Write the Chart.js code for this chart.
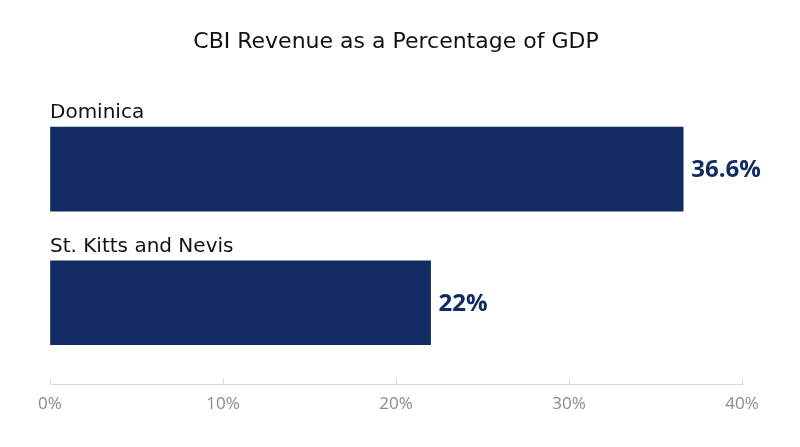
<!DOCTYPE html>
<html>
<head>
<meta charset="utf-8">
<script src="https://cdn.jsdelivr.net/npm/chart.js@4"></script>
<style>
  html, body { margin: 0; padding: 0; background: #fff; }
  #wrap { width: 800px; height: 447px; }
</style>
</head>
<body>
<div id="wrap"><canvas id="chart"></canvas></div>
<script>
  const countries = ['Dominica', 'St. Kitts and Nevis'];
  const revenueShare = [36.6, 22];
  const valueLabels = ['36.6%', '22%'];
  const xTicks = [0, 10, 20, 30, 40];

  const NAVY = '#122b62';
  const FONT = "'Open Sans', sans-serif";
  const WIDE = "'DejaVu Sans', sans-serif";

  // category names above the bars, value labels at the bar ends
  const barText = {
    id: 'barText',
    afterDatasetsDraw(chart) {
      const ctx = chart.ctx;
      const meta = chart.getDatasetMeta(0);
      ctx.save();
      meta.data.forEach((bar, i) => {
        const top = bar.y - bar.height / 2;
        ctx.font = '20px ' + WIDE;
        ctx.fillStyle = '#111';
        ctx.textAlign = 'left';
        ctx.textBaseline = 'alphabetic';
        ctx.fillText(countries[i], chart.chartArea.left, top - 9);

        ctx.font = 'bold 24px ' + FONT;
        ctx.fillStyle = NAVY;
        ctx.textBaseline = 'middle';
        ctx.fillText(valueLabels[i], bar.x + 8, bar.y + 1);
      });
      ctx.restore();
    }
  };

  new Chart(document.getElementById('chart'), {
    type: 'bar',
    data: {
      datasets: [{
        data: countries.map((c, i) => ({ x: revenueShare[i], y: i })),
        backgroundColor: NAVY,
        barThickness: 84
      }]
    },
    options: {
      indexAxis: 'y',
      responsive: true,
      maintainAspectRatio: false,
      animation: false,
      layout: { padding: { left: 50, right: 58, top: 0, bottom: 18 } },
      scales: {
        x: {
          min: 0,
          max: 40,
          afterBuildTicks(scale) { scale.ticks = xTicks.map(v => ({ value: v })); },
          grid: { drawOnChartArea: false, drawTicks: true, tickLength: -6, color: '#d9d9d9' },
          border: { color: '#d9d9d9' },
          ticks: {
            padding: 15,
            color: '#8a8a8a',
            font: { family: FONT, size: 17 },
            callback: v => v + '%'
          }
        },
        y: {
          type: 'linear',
          min: -0.5,
          max: 1.613,
          reverse: true,
          offset: false,
          display: false
        }
      },
      plugins: {
        legend: { display: false },
        tooltip: { enabled: false },
        title: {
          display: true,
          text: 'CBI Revenue as a Percentage of GDP',
          color: '#111',
          font: { family: WIDE, size: 22, weight: 'normal' },
          padding: { top: 29, bottom: 47 }
        }
      }
    },
    plugins: [barText]
  });
</script>
</body>
</html>
